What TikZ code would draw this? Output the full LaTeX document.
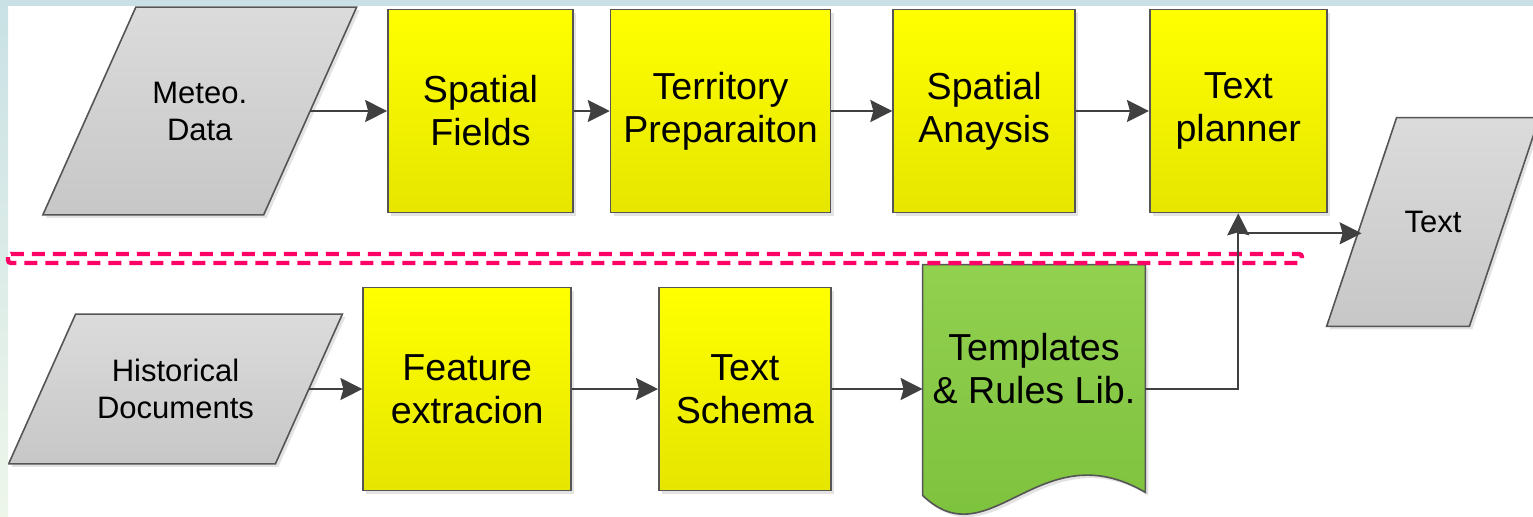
\documentclass[tikz,border=0pt]{standalone}
\usepackage{fontspec}
\setmainfont{Liberation Sans}
\usetikzlibrary{arrows.meta, positioning, backgrounds, calc, shadows}
\definecolor{edgegray}{HTML}{555555}
\definecolor{arrowgray}{HTML}{404040}
\definecolor{sepred}{HTML}{FF0066}
\definecolor{frameblue}{HTML}{C9E1E5}
\definecolor{framepale}{HTML}{EEF6EA}
\definecolor{docgreen}{RGB}{146,208,80}
\definecolor{docgreendark}{RGB}{122,192,58}
\tikzset{
  softshadow/.style = {drop shadow={opacity=0.22, shadow xshift=1.5pt, shadow yshift=-1.5pt}},
  stage/.style = {rectangle, draw=edgegray, line width=0.8pt, align=center, minimum height=101.5pt, top color=yellow, bottom color=yellow!90!black, font=\fontsize{18.8}{21.5}\selectfont, softshadow},
  data/.style = {rectangle, align=center, font=\fontsize{15.5}{18.5}\selectfont},
  dataface/.style = {draw=edgegray, line width=0.8pt, top color=black!14, bottom color=black!22, softshadow},
  doc/.style = {rectangle, align=center, font=\fontsize{18.8}{21.5}\selectfont},
  docshape/.style = {draw=edgegray, line width=0.8pt, top color=docgreen, bottom color=docgreendark, softshadow},
  line/.style = {-{Stealth[length=11pt, width=11pt, inset=1.5pt]}, line width=1pt, draw=arrowgray},
  sepline/.style = {draw=sepred, line width=2.2pt, dash pattern=on 6.5pt off 4pt, rounded corners=1.5pt}
}
% slanted outline round a data node, #2 = half the slant
\newcommand{\paraoutline}[2]{%
  \path[dataface] ([xshift=-#2]#1.south west) -- ([xshift=-#2]#1.south east)
    -- ([xshift=#2]#1.north east) -- ([xshift=#2]#1.north west) -- cycle;}

\begin{document}
\begin{tikzpicture}[x=0.5pt, y=-0.5pt]

\useasboundingbox (0,0) rectangle (1533,516);
\fill[frameblue] (0,0) rectangle (1533,6);
\shade[top color=frameblue, bottom color=framepale] (0,0) rectangle (8,516);

% Top chain
\node[data, minimum width=110pt, minimum height=103.5pt] (meteo) at (199.75,111) {Meteo.\\Data};

\node[stage, minimum width=92.5pt, right=38.5pt of meteo] (fields) {Spatial\\Fields};

\node[stage, minimum width=110pt, right=18pt of fields] (terr) {Territory\\Preparaiton};

\node[stage, minimum width=91pt, right=30.5pt of terr] (anal) {Spatial\\Anaysis};

\node[stage, minimum width=88.5pt, right=36.5pt of anal] (plan) {Text\\planner};

\node[data, minimum width=71pt, minimum height=104pt] (txt) at (1433,222) {Text};

% Bottom chain
\node[data, minimum width=133pt, minimum height=74.5pt] (hist) at (175.5,389) {Historical\\Documents};

\node[stage, minimum width=104pt, right=26.75pt of hist] (feat) {Feature\\extracion};

\node[stage, minimum width=86pt, right=43pt of feat] (schema) {Text\\Schema};

\node[doc, minimum width=111pt, minimum height=104pt, right=45.5pt of schema, yshift=10pt] (tpl) {Templates\\\& Rules Lib.};

\begin{scope}[on background layer]
  \paraoutline{meteo}{23.25pt}
  \paraoutline{hist}{16.75pt}
  \paraoutline{txt}{17.5pt}
  \path[docshape] (tpl.north west) -- (tpl.north east) -- ($(tpl.south east)+(0,19)$)
    .. controls ($(tpl.south)+(6,-43)$) and ($(tpl.south)+(-44,87)$) .. ($(tpl.south west)+(0,22)$) -- cycle;
\end{scope}

% Separator
\draw[sepline] (8,254) rectangle (1302,263);

% Arrows
\draw[line] (meteo) -- (fields);
\draw[line] (fields) -- (terr);
\draw[line] (terr) -- (anal);
\draw[line] (anal) -- (plan);

\draw[line] (hist) -- (feat);
\draw[line] (feat) -- (schema);
\draw[line] (schema) -- (schema -| tpl.west);

\draw[line] (schema -| tpl.east) -| (plan.south);
\coordinate (fork) at ($(plan.south)+(0,20)$);
\draw[line] (fork) -- (fork -| txt.west);

\end{tikzpicture}
\end{document}
